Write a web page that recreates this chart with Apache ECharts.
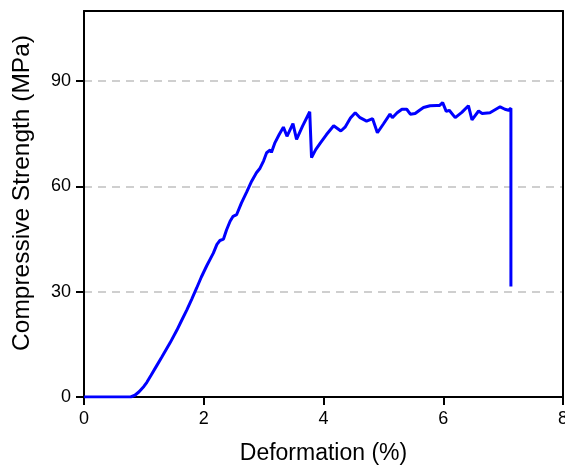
<!DOCTYPE html>
<html>
<head>
<meta charset="utf-8">
<script src="https://cdn.jsdelivr.net/npm/echarts@6/dist/echarts.min.js"></script>
<style>html,body{margin:0;padding:0;background:#fff}#c{width:565px;height:467px}</style>
</head>
<body>
<div id="c"></div>
<script>
var deformation = [0, 0.3, 0.6, 0.78, 0.85, 0.92, 1.0, 1.05, 1.12, 1.21, 1.3, 1.44, 1.55, 1.63, 1.72, 1.80, 1.88, 1.96, 2.05, 2.16, 2.22, 2.27, 2.33, 2.38, 2.44, 2.49, 2.55, 2.63, 2.72, 2.80, 2.88, 2.94, 3.0, 3.05, 3.11, 3.13, 3.19, 3.26, 3.33, 3.39, 3.49, 3.55, 3.65, 3.77, 3.80, 3.87, 3.94, 4.05, 4.17, 4.29, 4.36, 4.45, 4.53, 4.61, 4.72, 4.82, 4.90, 5.0, 5.11, 5.15, 5.23, 5.31, 5.39, 5.45, 5.53, 5.61, 5.67, 5.78, 5.89, 5.94, 5.99, 6.05, 6.10, 6.20, 6.31, 6.42, 6.48, 6.59, 6.65, 6.78, 6.95, 7.03, 7.09, 7.13, 7.13];
var strength = [0, 0, 0, 0, 0.5, 1.5, 3.0, 4.2, 6.2, 8.8, 11.4, 15.5, 19, 21.8, 24.9, 27.9, 31, 34.2, 37.4, 41, 43.5, 44.6, 45, 47.6, 50.1, 51.5, 52, 55.3, 58.5, 61.5, 63.9, 65.2, 67.3, 69.6, 70.4, 69.7, 72.5, 74.8, 76.9, 74.3, 77.9, 73.4, 77.2, 81.3, 68.2, 70.5, 72.2, 74.8, 77.3, 75.8, 76.9, 79.5, 81, 79.6, 78.6, 79.3, 75.3, 77.8, 80.6, 79.6, 81, 82, 82, 80.6, 80.8, 81.8, 82.5, 83, 83.1, 83.1, 83.9, 81.4, 81.7, 79.6, 81.1, 83, 79, 81.5, 80.8, 81, 82.7, 82, 81.7, 82.3, 31.5];
var xTicks = [0, 2, 4, 6, 8];
var yTicks = [0, 30, 60, 90];

var pts = deformation.map(function (d, i) { return [d, strength[i]]; });
var font = 'Liberation Sans, Arial, sans-serif';
var chart = echarts.init(document.getElementById('c'), null, { renderer: 'canvas' });
chart.setOption({
  animation: false,
  backgroundColor: '#fff',
  grid: { left: 84, right: 2, top: 11, bottom: 70, containLabel: false, outerBoundsMode: 'none' },
  xAxis: [{
    type: 'value', min: 0, max: 8, interval: 2,
    name: 'Deformation (%)', nameLocation: 'middle', nameGap: 45,
    nameTextStyle: { fontFamily: font, fontSize: 23, color: '#000' },
    axisLine: { show: true, onZero: false, lineStyle: { color: '#000', width: 2 } },
    axisTick: { show: true, inside: false, length: 8, lineStyle: { color: '#000', width: 2 }, customValues: xTicks },
    axisLabel: { fontFamily: font, fontSize: 18, color: '#000', margin: 13, customValues: xTicks },
    splitLine: { show: false }
  }, {
    type: 'value', min: 0, max: 8, position: 'top', z: 10,
    axisLine: { show: true, onZero: false, lineStyle: { color: '#000', width: 2 } },
    axisTick: { show: false }, axisLabel: { show: false }, splitLine: { show: false }
  }],
  yAxis: [{
    type: 'value', min: 0, max: 110, interval: 30,
    name: 'Compressive Strength (MPa)', nameLocation: 'middle', nameGap: 49,
    nameTextStyle: { fontFamily: font, fontSize: 24.5, color: '#000', padding: [0, 0, 0, 22] },
    axisLine: { show: true, onZero: false, lineStyle: { color: '#000', width: 2 } },
    axisTick: { show: true, inside: false, length: 8, lineStyle: { color: '#000', width: 2 }, customValues: yTicks },
    axisLabel: { fontFamily: font, fontSize: 18, color: '#000', margin: 13, customValues: yTicks },
    splitLine: { show: true, lineStyle: { color: '#c0c0c0', width: 1.5, type: [8, 6] } }
  }, {
    type: 'value', min: 0, max: 110, position: 'right', z: 10,
    axisLine: { show: true, onZero: false, lineStyle: { color: '#000', width: 2 } },
    axisTick: { show: false }, axisLabel: { show: false }, splitLine: { show: false }
  }],
  series: [{
    type: 'line', data: pts, xAxisIndex: 0, yAxisIndex: 0,
    showSymbol: false, symbol: 'none', smooth: false,
    lineStyle: { color: '#0000ff', width: 3 }, z: 5
  }]
});
</script>
</body>
</html>
